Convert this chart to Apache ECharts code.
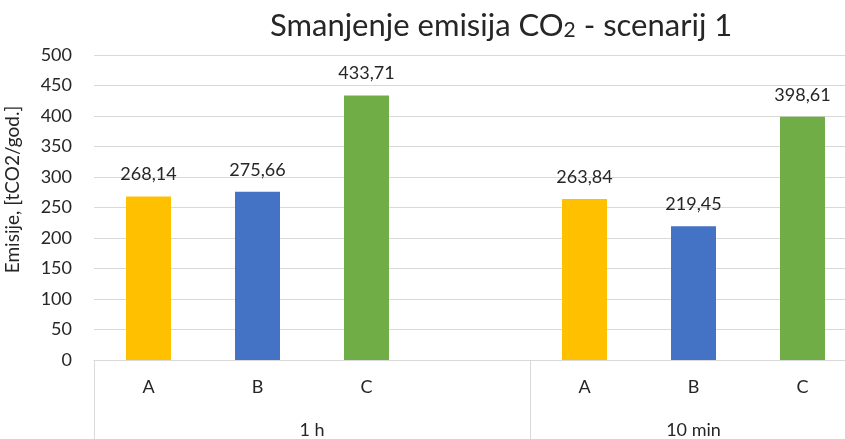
<!DOCTYPE html>
<html>
<head>
<meta charset="utf-8">
<script src="https://cdn.jsdelivr.net/npm/echarts@6/dist/echarts.min.js"></script>
<style>
	html, body { margin: 0; padding: 0; background: #ffffff; }
	#chart { width: 845px; height: 439px; }
</style>
</head>
<body>
<div id="chart"></div>
<script>
// podaci
var categories = [ 'A', 'B', 'C', '', 'A', 'B', 'C' ];
var groups = [ '1 h', '10 min' ];
var values1h = [ 268.14, 275.66, 433.71 ];
var values10min = [ 263.84, 219.45, 398.61 ];
var yTicks = { min : 0, max : 500, step : 50 };
var barColors = [ '#FFC000', '#4472C4', '#70AD47' ];

(function() {
	var myChart = echarts.init(document.getElementById('chart'));

	// jedna serija, boja po kategoriji; prazno mjesto izmedju grupa
	var data = [];
	values1h.forEach(function(v, i) {
		data.push({ value : v, itemStyle : { color : barColors[i] } });
	});
	data.push('-');
	values10min.forEach(function(v, i) {
		data.push({ value : v, itemStyle : { color : barColors[i] } });
	});

	// druga razina osi: 15 tocaka (pola slota), oznake na sredini grupa
	var groupAxis = [];
	for (var i = 0; i < categories.length * 2 + 1; i++) {
		groupAxis.push(i === 4 ? groups[0] : (i === 11 ? groups[1] : ' ' + i));
	}

	var font = 'Lato, "Open Sans", sans-serif';
	var option = {
		textStyle : { fontFamily : font },
		title : {
			text : 'Smanjenje emisija CO{sub|2} - scenarij 1',
			left : 265,
			top : 5,
			textStyle : {
				fontFamily : font,
				fontSize : 31,
				fontWeight : 'normal',
				color : '#262626',
				rich : {
					sub : { fontFamily : font, fontSize : 21, color : '#262626', padding : [ 9, 0, 0, 0 ] }
				}
			}
		},
		grid : {
			left : 94,
			top : 55,
			width : 763,
			height : 305,
			outerBoundsMode : 'none'
		},
		xAxis : [ {
			type : 'category',
			data : categories,
			axisLine : { lineStyle : { color : '#D9D9D9', width : 1 } },
			axisTick : { show : false },
			axisLabel : { color : '#262626', fontSize : 18, margin : 18, interval : 0 }
		}, {
			type : 'category',
			data : groupAxis,
			position : 'bottom',
			boundaryGap : false,
			axisLine : { show : false },
			axisTick : {
				show : true,
				length : 90,
				interval : function(index) {
					return index === 0 || index === 8 || index === 14;
				},
				lineStyle : { color : '#D9D9D9', width : 1 }
			},
			axisLabel : {
				color : '#262626',
				fontSize : 18,
				margin : 61,
				interval : function(index) {
					return index === 4 || index === 11;
				}
			}
		} ],
		yAxis : {
			type : 'value',
			min : yTicks.min,
			max : yTicks.max,
			interval : yTicks.step,
			name : 'Emisije, [tCO2/god.]',
			nameLocation : 'middle',
			nameGap : 72,
			nameTextStyle : { color : '#262626', fontSize : 19, padding : [ 0, 0, 0, 36 ] },
			axisLine : { show : false },
			axisTick : { show : false },
			axisLabel : { color : '#262626', fontSize : 18, margin : 22 },
			splitLine : { lineStyle : { color : '#D9D9D9', width : 1 } }
		},
		series : [ {
			type : 'bar',
			data : data,
			barWidth : 45,
			label : {
				show : true,
				position : 'top',
				distance : 13,
				color : '#262626',
				fontSize : 18,
				formatter : function(p) {
					return p.value.toFixed(2).replace('.', ',');
				}
			}
		} ]
	};
	myChart.setOption(option);
})();
</script>
</body>
</html>
